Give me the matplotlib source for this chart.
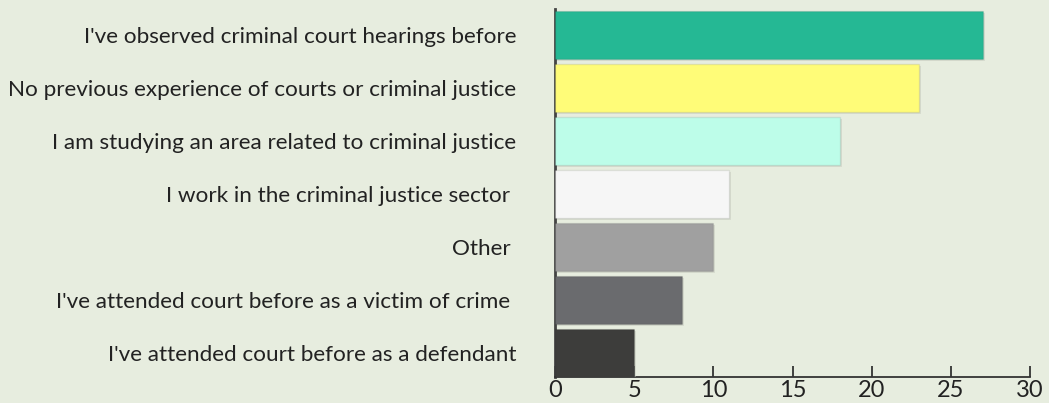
import matplotlib
matplotlib.use('Agg')
import matplotlib.pyplot as plt
import matplotlib.patheffects as pe

# answers, top to bottom
labels = ["I've observed criminal court hearings before",
          "No previous experience of courts or criminal justice",
          "I am studying an area related to criminal justice",
          "I work in the criminal justice sector ",
          "Other ",
          "I've attended court before as a victim of crime ",
          "I've attended court before as a defendant"]
counts = [27, 23, 18, 11, 10, 8, 5]
colors = ['#25b894', '#fffc78', '#bdfde9', '#f6f6f6', '#a0a0a0', '#6a6b6e', '#3d3d3b']
xticks = [0, 5, 10, 15, 20, 25, 30]

bg = '#e7eddf'
plt.rcParams['font.family'] = ['Lato', 'DejaVu Sans']

fig = plt.figure(figsize=(10.49, 4.03), dpi=100, facecolor=bg)
ax = fig.add_axes([0.529, 0.0645, 0.453, 0.9135], facecolor=bg)

ypos = list(range(len(labels)))
bars = ax.barh(ypos, counts, height=0.9, color=colors,
               edgecolor='#00000014', linewidth=1, zorder=3)
for b in bars:
    b.set_path_effects([pe.SimplePatchShadow(offset=(1.5, -1.5), shadow_rgbFace='#c4c9bc', alpha=0.45),
                        pe.Normal()])

ax.set_ylim(6.45, -0.49)
ax.set_xlim(0, 30)
ax.set_yticks(ypos)
ax.set_yticklabels(labels, fontsize=16.2, color='#222222')
ax.set_xticks(xticks)
ax.set_xticklabels([str(t) for t in xticks], fontsize=17, color='#222222')
ax.tick_params(axis='y', length=0, pad=28)
ax.tick_params(axis='x', direction='in', length=8, width=1.3, color='#333333', pad=2)

for s in ['top', 'right']:
    ax.spines[s].set_visible(False)
ax.spines['left'].set_color('#444444')
ax.spines['left'].set_linewidth(2)
ax.spines['bottom'].set_color('#333333')
ax.spines['bottom'].set_linewidth(1.3)

fig.savefig('out.png', dpi=100, facecolor=bg)
